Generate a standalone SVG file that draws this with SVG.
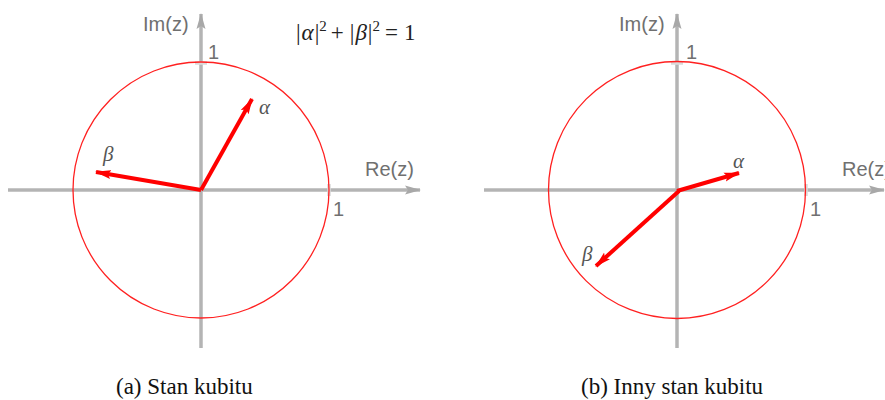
<svg xmlns="http://www.w3.org/2000/svg" width="885" height="400" viewBox="0 0 885 400">
<style>
.axis{stroke:#b4b4b4;stroke-width:3.5;fill:none}
.tick{stroke:#dadada;stroke-width:3.5}
.circ{stroke:#ff2020;stroke-width:1.3;fill:none}
.vec{stroke:#ff0000;stroke-width:4;fill:none}
.lab{font-family:"Liberation Sans",Arial,sans-serif;font-size:20px;fill:#707070}
.greek{font-family:"Liberation Serif","DejaVu Serif",serif;font-style:italic;font-size:21px;fill:#555}
.cap{font-family:"Liberation Serif","DejaVu Serif",serif;font-size:23px;fill:#111}
.math{font-family:"Liberation Serif","DejaVu Serif",serif;font-size:23px;fill:#222}
</style>
<defs>
<marker id="ah" markerWidth="16" markerHeight="10" refX="15" refY="5" orient="auto" markerUnits="userSpaceOnUse" viewBox="0 0 16 10">
<path d="M0,0.5 L16,5 L0,9.5 L3,5 Z" fill="#a8a8a8"/>
</marker>
<marker id="rh" markerWidth="16" markerHeight="10" refX="15" refY="5" orient="auto" markerUnits="userSpaceOnUse" viewBox="0 0 16 10">
<path d="M0,0.5 L16,5 L0,9.5 L3,5 Z" fill="#ff0000"/>
</marker>
</defs>
<g id="diagram-a">
<g id="axes-a">
<line class="axis" x1="8" y1="190" x2="420" y2="190" marker-end="url(#ah)"/>
<line class="axis" x1="201" y1="348" x2="201" y2="14" marker-end="url(#ah)"/>
<line class="tick" x1="329" y1="184" x2="329" y2="196"/>
<line class="tick" x1="195" y1="63" x2="207" y2="63"/>
</g>
<circle id="circle-a" class="circ" cx="201" cy="190" r="128"/>
<text class="lab" x="143" y="31">Im(z)</text>
<text class="lab" x="208" y="59">1</text>
<text class="lab" x="365" y="176">Re(z)</text>
<text class="lab" x="333" y="216">1</text>
<text class="math" x="296" y="40">|<tspan font-style="italic" dx="1">α</tspan><tspan dx="1">|</tspan><tspan font-size="15" dy="-9">2</tspan><tspan dy="9" dx="4">+</tspan><tspan dx="6">|</tspan><tspan font-style="italic" dx="1">β</tspan><tspan dx="1">|</tspan><tspan font-size="15" dy="-9">2</tspan><tspan dy="9" dx="5">=</tspan><tspan dx="6">1</tspan></text>
<g id="vectors-a">
<line class="vec" x1="201" y1="190" x2="252" y2="99" marker-end="url(#rh)"/>
<line class="vec" x1="201" y1="190" x2="96" y2="172" marker-end="url(#rh)"/>
</g>
<text class="greek" x="259" y="114">α</text>
<text class="greek" x="103" y="161">β</text>
<text class="cap" x="116" y="394">(a) Stan kubitu</text>
</g>
<g id="diagram-b">
<g id="axes-b">
<line class="axis" x1="484" y1="190" x2="884" y2="190" marker-end="url(#ah)"/>
<line class="axis" x1="677" y1="348" x2="677" y2="14" marker-end="url(#ah)"/>
<line class="tick" x1="806" y1="184" x2="806" y2="196"/>
<line class="tick" x1="671" y1="63" x2="683" y2="63"/>
</g>
<circle id="circle-b" class="circ" cx="677" cy="190" r="128.5"/>
<text class="lab" x="619" y="31">Im(z)</text>
<text class="lab" x="686" y="59">1</text>
<text class="lab" x="842" y="176">Re(z)</text>
<text class="lab" x="810" y="216">1</text>
<g id="vectors-b">
<line class="vec" x1="677" y1="191" x2="739" y2="173" marker-end="url(#rh)"/>
<line class="vec" x1="679" y1="191" x2="596" y2="266" marker-end="url(#rh)"/>
</g>
<text class="greek" x="733" y="168">α</text>
<text class="greek" x="582" y="261">β</text>
<text class="cap" x="581" y="394">(b) Inny stan kubitu</text>
</g>
</svg>
